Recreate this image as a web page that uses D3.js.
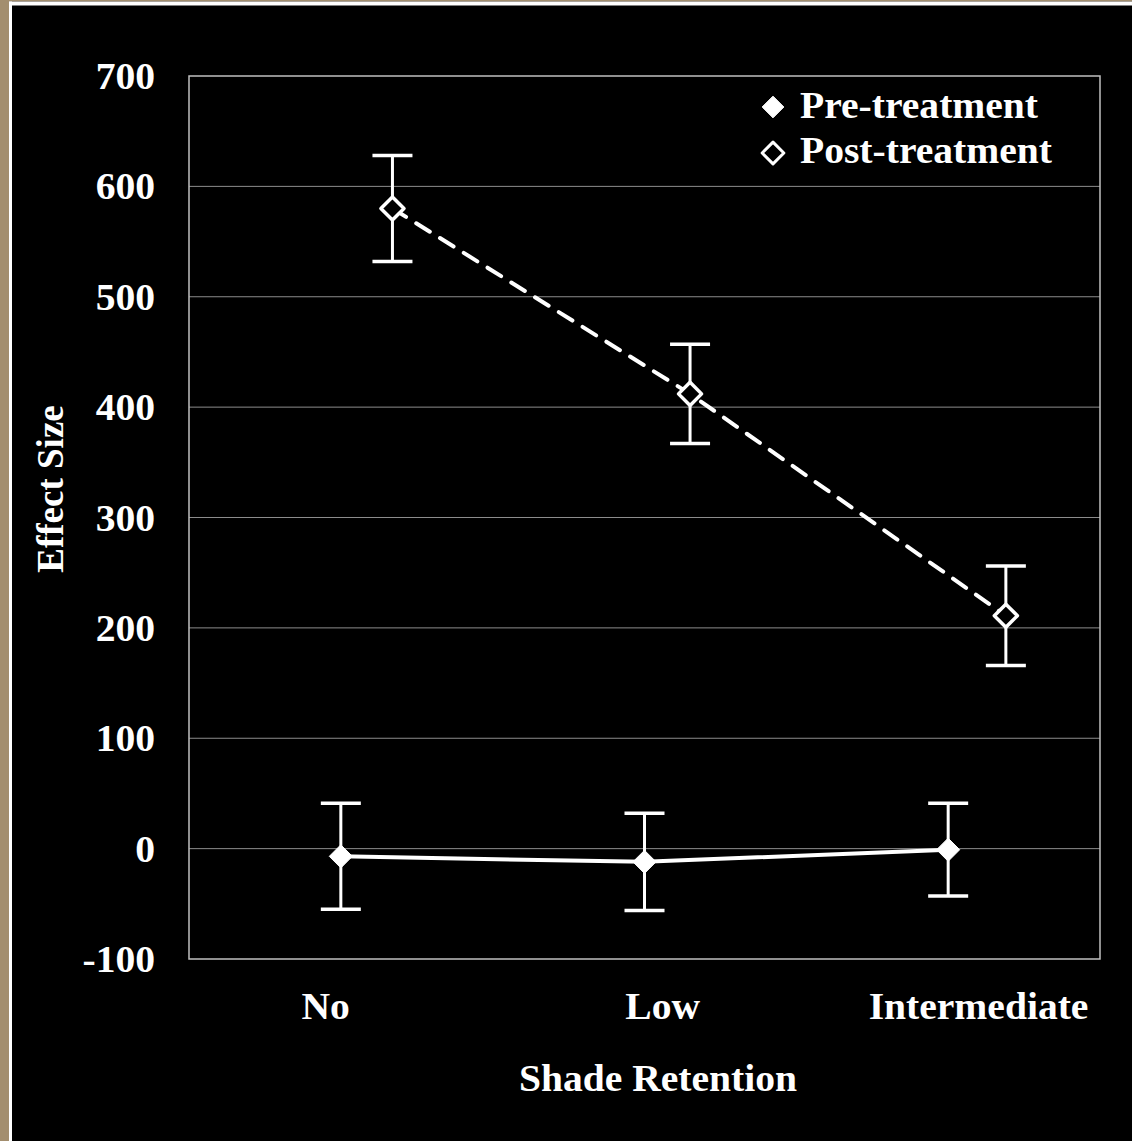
<!DOCTYPE html>
<html>
<head>
    <meta charset="utf-8">
    <title>Effect Size by Shade Retention</title>
    <style>
        body { margin: 0; background: #000; }
        text { font-family: "Liberation Serif", "Times New Roman", serif; font-weight: bold; fill: #fff; }
    </style>
</head>
<body>
    <div id="chart"></div>
    <script src="https://d3js.org/d3.v7.min.js"></script>
    <script>
        // Data
        const categories = ["No", "Low", "Intermediate"];
        const preX = [1, 2, 3];
        const preMean = [-7, -12, -1];
        const preErr = [48, 44, 42];
        const postX = [1.17, 2.15, 3.19];
        const postMean = [580, 412, 211];
        const postErr = [48, 45, 45];
        const yTicks = [-100, 0, 100, 200, 300, 400, 500, 600, 700];

        const W = 1132, H = 1141;
        const plot = { left: 189, top: 76, right: 1100, bottom: 959 };
        const stretch = 1.07; // slide text is a bit wider than the font

        const svg = d3.select("#chart").append("svg")
            .attr("width", W)
            .attr("height", H);

        // slide frame
        svg.append("rect").attr("width", W).attr("height", H).attr("fill", "#000");
        svg.append("rect").attr("x", 0).attr("y", 0).attr("width", 9).attr("height", H).attr("fill", "#a38e6e");
        svg.append("rect").attr("x", 0).attr("y", 0).attr("width", W).attr("height", 1.5).attr("fill", "#a38e6e");
        svg.append("rect").attr("x", 9).attr("y", 1.5).attr("width", 3).attr("height", H).attr("fill", "#fff");
        svg.append("rect").attr("x", 9).attr("y", 1.5).attr("width", W).attr("height", 4).attr("fill", "#fff");

        const x = d3.scaleLinear().domain([0.5, 3.5]).range([plot.left, plot.right]);
        const y = d3.scaleLinear().domain([-100, 700]).range([plot.bottom, plot.top]);

        // gridlines
        svg.append("g")
            .selectAll("line")
            .data(yTicks.slice(1, -1))
            .join("line")
            .attr("x1", plot.left).attr("x2", plot.right)
            .attr("y1", d => y(d)).attr("y2", d => y(d))
            .attr("stroke", "#8c8c8c")
            .attr("stroke-width", 1);

        // plot border
        svg.append("rect")
            .attr("x", plot.left).attr("y", plot.top)
            .attr("width", plot.right - plot.left)
            .attr("height", plot.bottom - plot.top)
            .attr("fill", "none")
            .attr("stroke", "#c0c0c0")
            .attr("stroke-width", 1.5);

        // y axis labels
        const yAxis = svg.append("g")
            .attr("transform", "translate(" + (plot.left - 34) + ",0)")
            .call(d3.axisLeft(y).tickValues(yTicks).tickSize(0).tickPadding(0).tickFormat(d => String(d)));
        yAxis.select(".domain").remove();
        yAxis.selectAll("text")
            .attr("fill", "#fff")
            .attr("transform", "scale(" + stretch + ",1)")
            .style("font-size", "37px")
            .style("font-family", "Liberation Serif, serif")
            .style("font-weight", "bold")
            .attr("dy", "0.34em");

        // category labels (text boxes sit a little off the points)
        const labelNudge = [-0.05, 0.06, 0.1];
        svg.append("g")
            .selectAll("text")
            .data(categories)
            .join("text")
            .attr("transform", (d, i) => "translate(" + x(preX[i] + labelNudge[i]) + ",1019) scale(" + stretch + ",1)")
            .attr("text-anchor", "middle")
            .style("font-size", "37px")
            .text(d => d);

        svg.append("text")
            .attr("transform", "translate(658,1091) scale(" + stretch + ",1)")
            .attr("text-anchor", "middle")
            .style("font-size", "37px")
            .text("Shade Retention");

        svg.append("text")
            .attr("transform", "translate(63,489) rotate(-90)")
            .attr("text-anchor", "middle")
            .style("font-size", "37px")
            .text("Effect Size");

        const line = d3.line().x(d => x(d[0])).y(d => y(d[1]));
        const diamond = d3.symbol().type(d3.symbolDiamond2).size(340);

        function drawSeries(xs, means, errs, dashed, filled) {
            const g = svg.append("g");
            const pts = xs.map((v, i) => [v, means[i], errs[i]]);

            g.append("path")
                .datum(pts)
                .attr("d", line)
                .attr("fill", "none")
                .attr("stroke", "#fff")
                .attr("stroke-width", 4)
                .attr("stroke-linecap", "round")
                .attr("stroke-dasharray", dashed ? "16,12" : null);

            const eb = g.selectAll(".err").data(pts).join("g").attr("class", "err");
            eb.append("line")
                .attr("x1", d => x(d[0])).attr("x2", d => x(d[0]))
                .attr("y1", d => y(d[1] + d[2])).attr("y2", d => y(d[1] - d[2]))
                .attr("stroke", "#fff").attr("stroke-width", 3);
            eb.selectAll(".cap")
                .data(d => [[d[0], d[1] + d[2]], [d[0], d[1] - d[2]]])
                .join("line")
                .attr("x1", d => x(d[0]) - 20).attr("x2", d => x(d[0]) + 20)
                .attr("y1", d => y(d[1])).attr("y2", d => y(d[1]))
                .attr("stroke", "#fff").attr("stroke-width", 3.5);

            g.selectAll(".pt").data(pts).join("path")
                .attr("transform", d => "translate(" + x(d[0]) + "," + y(d[1]) + ")")
                .attr("d", diamond)
                .attr("fill", filled ? "#fff" : "#000")
                .attr("stroke", "#fff")
                .attr("stroke-width", filled ? 1 : 3.5)
                .attr("stroke-linejoin", "round");
        }

        drawSeries(postX, postMean, postErr, true, false);
        drawSeries(preX, preMean, preErr, false, true);

        // legend
        const legend = [["Pre-treatment", true], ["Post-treatment", false]];
        const lg = svg.append("g");
        lg.selectAll("path").data(legend).join("path")
            .attr("transform", (d, i) => "translate(773," + (107 + i * 46) + ")")
            .attr("d", d3.symbol().type(d3.symbolDiamond2).size(300))
            .attr("fill", d => d[1] ? "#fff" : "#000")
            .attr("stroke", "#fff")
            .attr("stroke-width", d => d[1] ? 1 : 3)
            .attr("stroke-linejoin", "round");
        lg.selectAll("text").data(legend).join("text")
            .attr("transform", (d, i) => "translate(800," + (118 + i * 45) + ") scale(" + stretch + ",1)")
            .style("font-size", "37px")
            .text(d => d[0]);
    </script>
</body>
</html>
